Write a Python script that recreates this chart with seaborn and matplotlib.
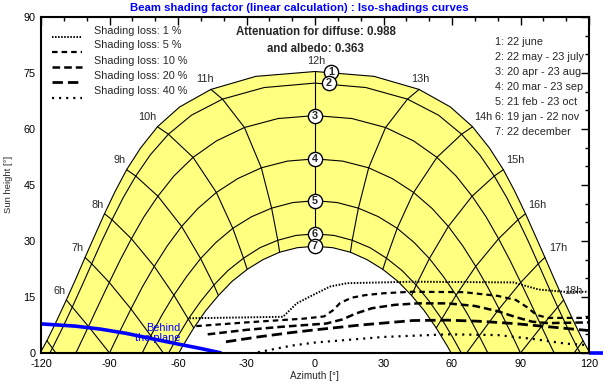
import numpy as np
import pandas as pd
import matplotlib
matplotlib.use('Agg')
import matplotlib.pyplot as plt
import seaborn as sns

# ---------------- data ----------------
# Sun path for each date curve, half-hourly points from start hour
date_labels = ['1', '2', '3', '4', '5', '6', '7']
date_start_hour = [4.5, 4.5, 5.0, 5.5, 6.0, 6.5, 6.5]

june_az = [-122.0, -117.4, -113.1, -108.9, -104.8, -100.7, -96.5, -92.2, -87.6, -82.5, -76.4, -69.0,
           -59.3, -45.6, -25.9, 0.0, 25.9, 45.6, 59.3, 69.0, 76.4, 82.5, 87.6, 92.2, 96.5, 100.7,
           104.8, 108.9, 113.1, 117.4, 122.0]
june_el = [-1.8, 3.3, 8.7, 14.2, 19.8, 25.6, 31.4, 37.3, 43.2, 49.1, 54.9, 60.6, 65.9, 70.6, 74.1,
           75.4, 74.1, 70.6, 65.9, 60.6, 54.9, 49.1, 43.2, 37.3, 31.4, 25.6, 19.8, 14.2, 8.7, 3.3, -1.8]

may_az = [-119.7, -115.0, -110.6, -106.3, -102.0, -97.8, -93.5, -88.9, -84.0, -78.5, -72.1, -64.2,
          -54.1, -40.5, -22.3, 0.0, 22.3, 40.5, 54.1, 64.2, 72.1, 78.5, 84.0, 88.9, 93.5, 97.8,
          102.0, 106.3, 110.6, 115.0, 119.7]
may_el = [-4.0, 1.3, 6.7, 12.3, 18.1, 23.9, 29.8, 35.7, 41.6, 47.4, 53.1, 58.6, 63.7, 68.0, 71.1,
          72.3, 71.1, 68.0, 63.7, 58.6, 53.1, 47.4, 41.6, 35.7, 29.8, 23.9, 18.1, 12.3, 6.7, 1.3, -4.0]

apr_az = [-108.4, -103.7, -99.2, -94.7, -90.1, -85.4, -80.4, -75.0, -68.8, -61.8, -53.4, -43.2,
          -30.9, -16.2, 0.0, 16.2, 30.9, 43.2, 53.4, 61.8, 68.8, 75.0, 80.4, 85.4, 90.1, 94.7,
          99.2, 103.7, 108.4]
apr_el = [-4.4, 1.3, 7.1, 13.0, 18.9, 24.8, 30.6, 36.4, 42.0, 47.4, 52.4, 56.8, 60.4, 62.8, 63.6,
          62.8, 60.4, 56.8, 52.4, 47.4, 42.0, 36.4, 30.6, 24.8, 18.9, 13.0, 7.1, 1.3, -4.4]

mar_az = [-94.6, -90.0, -85.4, -80.6, -75.7, -70.4, -64.7, -58.4, -51.3, -43.2, -33.9, -23.5,
          -12.1, 0.0, 12.1, 23.5, 33.9, 43.2, 51.3, 58.4, 64.7, 70.4, 75.7, 80.6, 85.4, 90.0, 94.6]
mar_el = [-5.9, 0.0, 5.9, 11.8, 17.6, 23.2, 28.7, 33.9, 38.7, 43.0, 46.7, 49.6, 51.4, 52.0, 51.4,
          49.6, 46.7, 43.0, 38.7, 33.9, 28.7, 23.2, 17.6, 11.8, 5.9, 0.0, -5.9]

feb_az = [-81.1, -76.6, -71.9, -67.0, -61.8, -56.2, -50.1, -43.4, -36.0, -27.8, -19.0, -9.7, 0.0,
          9.7, 19.0, 27.8, 36.0, 43.4, 50.1, 56.2, 61.8, 67.0, 71.9, 76.6, 81.1]
feb_el = [-6.9, -1.1, 4.6, 10.2, 15.5, 20.5, 25.3, 29.6, 33.4, 36.5, 38.8, 40.3, 40.8, 40.3, 38.8,
          36.5, 33.4, 29.6, 25.3, 20.5, 15.5, 10.2, 4.6, -1.1, -6.9]

jan_az = [-69.6, -65.1, -60.4, -55.5, -50.1, -44.3, -38.1, -31.3, -24.1, -16.3, -8.3, 0.0, 8.3,
          16.3, 24.1, 31.3, 38.1, 44.3, 50.1, 55.5, 60.4, 65.1, 69.6]
jan_el = [-6.6, -1.1, 4.1, 9.1, 13.8, 18.2, 22.1, 25.4, 28.2, 30.2, 31.5, 31.9, 31.5, 30.2, 28.2,
          25.4, 22.1, 18.2, 13.8, 9.1, 4.1, -1.1, -6.6]

dec_az = [-66.9, -62.6, -58.0, -53.1, -47.9, -42.3, -36.3, -29.7, -22.8, -15.5, -7.8, 0.0, 7.8,
          15.5, 22.8, 29.7, 36.3, 42.3, 47.9, 53.1, 58.0, 62.6, 66.9]
dec_el = [-8.7, -3.3, 1.8, 6.7, 11.3, 15.4, 19.2, 22.4, 25.0, 27.0, 28.2, 28.6, 28.2, 27.0, 25.0,
          22.4, 19.2, 15.4, 11.3, 6.7, 1.8, -3.3, -8.7]

# Iso-shading curves
iso1_az = [-55, -14, -11, -8, -1, 6.6, 14, 43, 87, 91, 98, 109, 120]
iso1_el = [9.3, 9.7, 11.5, 13.3, 15.5, 17.8, 18.7, 19.1, 18.9, 18.2, 17.0, 16.4, 16.4]
iso5_az = [-52, -30, -5, 4, 8, 11, 16, 22, 30, 42, 65, 80, 88, 93, 97, 102, 120]
iso5_el = [7.2, 8.2, 9.2, 9.8, 11.5, 13.4, 14.8, 15.5, 16.0, 16.4, 16.3, 15.3, 14.2, 12.2, 10.2, 9.4, 9.4]
iso10_az = [-47, -30, -15, 5, 12, 18, 25, 35, 45, 58, 70, 80, 88, 95, 102, 120]
iso10_el = [5.0, 6.2, 7.0, 7.9, 9.0, 10.6, 12.0, 12.9, 13.3, 13.3, 12.6, 11.2, 9.6, 8.4, 8.0, 8.2]
iso20_az = [-39, -25, -10, 0, 20, 43, 58, 72, 87, 101, 120]
iso20_el = [3.0, 4.3, 5.5, 6.2, 7.5, 8.7, 8.8, 8.5, 7.9, 7.1, 6.0]
iso40_az = [-25, -10, 0, 30, 58, 80, 95, 110, 120]
iso40_el = [0.2, 2.0, 2.8, 4.3, 5.0, 4.8, 3.8, 2.5, 2.1]
iso_labels = ['Shading loss: 1 %', 'Shading loss: 5 %', 'Shading loss: 10 %',
              'Shading loss: 20 %', 'Shading loss: 40 %']

# Plane horizon ("Behind the plane")
plane_az = [-120, -105, -94, -83, -72, -60, -50, -41]
plane_el = [7.8, 7.2, 6.4, 5.3, 3.9, 2.4, 1.2, 0.0]

# Circle markers (date numbers) and hour labels
circle_az = [7.0, 6.0, 0.0, 0.0, 0.0, 0.0, 0.0]
circle_el = [75.4, 72.3, 63.6, 52.0, 40.8, 31.9, 28.6]
hour_text = ['6h', '7h', '8h', '9h', '10h', '11h', '12h', '13h', '14h', '15h', '16h', '17h', '18h']
hour_text_az = [-111.7, -103.8, -95.0, -85.4, -73.6, -48.2, 0.4, 46.0, 73.6, 87.6, 97.3, 106.4, 113.0]
hour_text_el = [16.6, 28.1, 39.6, 51.7, 63.2, 73.4, 78.2, 73.4, 63.2, 51.7, 39.6, 28.1, 16.6]
date_text = ['1: 22 june', '2: 22 may - 23 july', '3: 20 apr - 23 aug', '4: 20 mar - 23 sep',
             '5: 21 feb - 23 oct', '6: 19 jan - 22 nov', '7: 22 december']

# ---------------- style ----------------
sns.set_theme(style='white')
plt.rcParams['font.family'] = ['Liberation Sans', 'DejaVu Sans']
plt.rcParams['lines.scale_dashes'] = False
plt.rcParams['axes.unicode_minus'] = False

fig = plt.figure(figsize=(6.03, 3.82), dpi=100)
ax = fig.add_axes([41 / 603, 29 / 382, 548 / 603, 336 / 382])

all_az = [june_az, may_az, apr_az, mar_az, feb_az, jan_az, dec_az]
all_el = [june_el, may_el, apr_el, mar_el, feb_el, jan_el, dec_el]
rows = []
for lab, start, azs, els in zip(date_labels, date_start_hour, all_az, all_el):
    for i, (a, e) in enumerate(zip(azs, els)):
        rows.append({'date': lab, 'hour': start + 0.5 * i, 'az': a, 'el': e})
df = pd.DataFrame(rows)

# yellow band between 22 june and 22 december
ax.fill(list(june_az) + list(dec_az[::-1]), list(june_el) + list(dec_el[::-1]),
        color='#ffff80', lw=0, zorder=1)

# date curves
sns.lineplot(data=df, x='az', y='el', units='date', estimator=None, sort=False,
             color='black', lw=0.8, ax=ax, zorder=2)
# hour lines
hdf = df[(df['hour'] % 1 == 0) & (df['hour'] >= 5) & (df['hour'] <= 19)]
hdf = hdf.sort_values('hour', kind='stable')
sns.lineplot(data=hdf, x='az', y='el', units='hour', estimator=None, sort=False,
             color='black', lw=0.8, ax=ax, zorder=2)

# iso-shading curves
iso_az = [iso1_az, iso5_az, iso10_az, iso20_az, iso40_az]
iso_el = [iso1_el, iso5_el, iso10_el, iso20_el, iso40_el]
iso_lw = [1.4, 1.6, 1.8, 2.0, 1.6]
iso_dash = [(1.1, 1.1), (4.0, 2.9), (5.5, 2.9), (7.5, 3.6), (1.5, 3.6)]
for azs, els, lw, ds in zip(iso_az, iso_el, iso_lw, iso_dash):
    ax.plot(azs, els, color='black', lw=lw, dashes=ds, zorder=3, dash_capstyle='butt')

# plane line
ax.plot(plane_az, plane_el, color='#0000ff', lw=2.6, zorder=4, solid_capstyle='butt')
ax.plot([120, 127], [0, 0], color='#0000ff', lw=2.6, zorder=4, clip_on=False, solid_capstyle='butt')
ax.text(-59.1, 6.7, 'Behind', color='#0000ff', fontsize=7.8, ha='right', va='center', zorder=5)
ax.text(-59.1, 4.0, 'the plane', color='#0000ff', fontsize=7.8, ha='right', va='center', zorder=5)

# circles with date numbers
ax.scatter(circle_az, circle_el, s=105, facecolor='white', edgecolor='black', linewidth=1.0, zorder=6)
for lab, a, e in zip(date_labels, circle_az, circle_el):
    ax.text(a, e, lab, fontsize=7.8, fontweight='bold', ha='center', va='center', zorder=7)

# hour labels
for t, a, e in zip(hour_text, hour_text_az, hour_text_el):
    ax.text(a, e, t, fontsize=7.8, ha='center', va='center', zorder=5)

# legend (manual)
leg_line_el = [84.7, 80.7, 76.7, 72.7, 68.4]
leg_text_el = [86.3, 82.4, 78.3, 74.2, 70.1]
for i in range(5):
    ax.plot([-115.2, -102.0], [leg_line_el[i]] * 2, color='black', lw=iso_lw[i], dashes=iso_dash[i],
            zorder=5, dash_capstyle='butt')
    ax.text(-96.8, leg_text_el[i], iso_labels[i], fontsize=7.8, ha='left', va='center', zorder=5)

# attenuation text
ax.text(0.4, 86.0, 'Attenuation for diffuse: 0.988', fontsize=8.3, fontweight='bold', ha='center', va='center')
ax.text(0.4, 81.4, 'and albedo: 0.363', fontsize=8.3, fontweight='bold', ha='center', va='center')

# date list
date_text_el = [83.3, 79.3, 75.3, 71.3, 67.2, 63.2, 59.2]
for t, e in zip(date_text, date_text_el):
    ax.text(78.9, e, t, fontsize=7.8, ha='left', va='center', zorder=5)

# axes
ax.set_xlim(-120, 120)
ax.set_ylim(0, 90)
ax.set_xticks(range(-120, 121, 30))
ax.set_yticks(range(0, 91, 15))
ax.set_xticks(range(-120, 121, 10), minor=True)
ax.set_yticks(range(0, 91, 5), minor=True)
ax.tick_params(which='both', direction='in', top=True, right=True, colors='black',
               labelsize=7.8, width=1.0)
ax.tick_params(which='major', length=5.5, pad=4)
ax.tick_params(which='minor', length=3)
ax.set_xlabel('')
ax.set_ylabel('')
for sp in ax.spines.values():
    sp.set_color('black')
    sp.set_linewidth(1.5)
    sp.set_zorder(8)

fig.text(0.496, 0.979, 'Beam shading factor (linear calculation) : Iso-shadings curves',
         color='#0000ff', fontweight='bold', fontsize=8.2, ha='center', va='center')
fig.text(0.522, 0.016, 'Azimuth [°]', fontsize=7.2, ha='center', va='center')
fig.text(0.014, 0.516, 'Sun height [°]', fontsize=6.8, ha='center', va='center', rotation=90)

fig.savefig('out.png', dpi=100)
